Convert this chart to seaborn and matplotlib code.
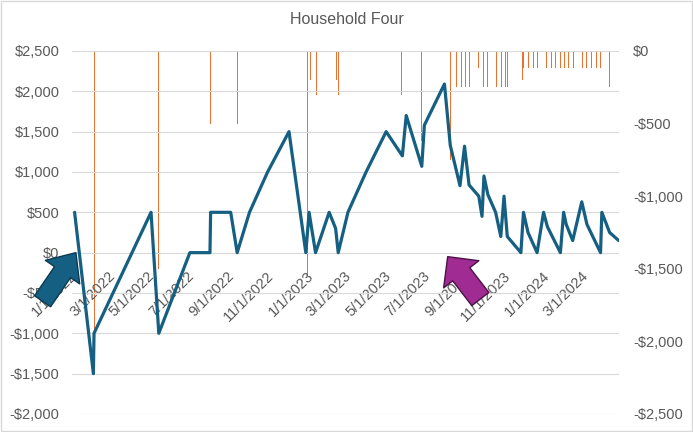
import pandas as pd
import numpy as np
import seaborn as sns
import matplotlib.pyplot as plt
from matplotlib.patches import Rectangle
from matplotlib.ticker import FuncFormatter

# Balance line (left axis)
line_dates = ['2022-01-01', '2022-01-30', '2022-01-31', '2022-04-29', '2022-05-11',
              '2022-06-28', '2022-07-29', '2022-07-30', '2022-08-30', '2022-09-09',
              '2022-09-28', '2022-10-26', '2022-11-28', '2022-12-24', '2022-12-29',
              '2023-01-08', '2023-01-29', '2023-02-08', '2023-02-12', '2023-02-27',
              '2023-03-27', '2023-04-27', '2023-05-22', '2023-05-28', '2023-06-21',
              '2023-06-25', '2023-07-26', '2023-08-04', '2023-08-19', '2023-08-26',
              '2023-09-02', '2023-09-17', '2023-09-22', '2023-09-25', '2023-10-01',
              '2023-10-13', '2023-10-21', '2023-10-26', '2023-10-31', '2023-11-21',
              '2023-11-25', '2023-12-02', '2023-12-16', '2023-12-26', '2024-01-01',
              '2024-01-21', '2024-01-26', '2024-01-30', '2024-02-09', '2024-02-23',
              '2024-03-02', '2024-03-23', '2024-03-25', '2024-04-06', '2024-04-20']
line_vals = [500, -1500, -1000, 500, -1000,
             0, 0, 500, 500, 0,
             500, 1000, 1500, 0, 500,
             0, 500, 300, 0, 500,
             1000, 1500, 1200, 1700, 1070,
             1580, 2090, 1330, 830, 1320,
             840, 700, 450, 950, 720,
             500, 200, 700, 200, 0,
             500, 250, 0, 500, 320,
             0, 500, 350, 150, 630,
             350, 0, 500, 250, 150]

# Transactions (right axis)
bar_dates = ['2022-01-31', '2022-05-11', '2022-07-30', '2022-09-10', '2022-12-26',
             '2022-12-31', '2023-01-10', '2023-02-10', '2023-02-13', '2023-05-21',
             '2023-06-20', '2023-08-04', '2023-08-14', '2023-08-21', '2023-08-27',
             '2023-09-03', '2023-09-17', '2023-09-25', '2023-10-01', '2023-10-15',
             '2023-10-22', '2023-10-29', '2023-11-01', '2023-11-23', '2023-11-25',
             '2023-12-03', '2023-12-10', '2023-12-17', '2023-12-31', '2024-01-07',
             '2024-01-13', '2024-01-21', '2024-01-27', '2024-02-03', '2024-02-10',
             '2024-02-24', '2024-03-02', '2024-03-09', '2024-03-16', '2024-03-23',
             '2024-04-06', '2024-04-21']
bar_vals = [-2000, -1500, -500, -500, -1550,
            -200, -300, -200, -300, -300,
            -620, -750, -250, -250, -250,
            -250, -120, -250, -250, -250,
            -250, -250, -250, -200, -120,
            -120, -120, -120, -120, -120,
            -120, -120, -120, -120, -120,
            -120, -120, -120, -120, -120,
            -250, -120]

tick_dates = ['2022-01-01', '2022-03-01', '2022-05-01', '2022-07-01', '2022-09-01',
              '2022-11-01', '2023-01-01', '2023-03-01', '2023-05-01', '2023-07-01',
              '2023-09-01', '2023-11-01', '2024-01-01', '2024-03-01']
tick_labels = ['1/1/2022', '3/1/2022', '5/1/2022', '7/1/2022', '9/1/2022',
               '11/1/2022', '1/1/2023', '3/1/2023', '5/1/2023', '7/1/2023',
               '9/1/2023', '11/1/2023', '1/1/2024', '3/1/2024']

line_dates = pd.to_datetime(line_dates)
bar_dates = pd.to_datetime(bar_dates)
tick_dates = pd.to_datetime(tick_dates)

sns.set_style('white')
plt.rcParams['font.family'] = ['Liberation Sans', 'DejaVu Sans']

grey = '#595959'
fig = plt.figure(figsize=(6.93, 4.32), dpi=100)
ax = fig.add_axes([0.1039, 0.0417, 0.7898, 0.8403])
ax2 = ax.twinx()

# bars on the secondary axis, hanging from 0
ax2.bar(bar_dates, bar_vals, width=1.5, color='#E97132', linewidth=0)
ax2.set_ylim(-2500, 0)
ax2.set_yticks(np.arange(-2500, 1, 500))

sns.lineplot(x=line_dates, y=line_vals, ax=ax, color='#156082', linewidth=2.3,
             estimator=None, sort=False, solid_joinstyle='round', solid_capstyle='round')

ax.set_zorder(ax2.get_zorder() + 1)
ax.patch.set_visible(False)

ax.set_ylim(-2000, 2500)
ax.set_yticks(np.arange(-2000, 2501, 500))
ax.set_xlim(pd.Timestamp('2021-12-28'), pd.Timestamp('2024-04-21'))
ax.set_xticks(tick_dates)
ax.set_xticklabels(tick_labels)
ax.grid(axis='y', color='#d9d9d9', linewidth=0.8)
ax.grid(axis='x', visible=False)
ax.set_xlabel('')
ax.set_ylabel('')

money = FuncFormatter(lambda v, p: f"-${abs(v):,.0f}" if v < 0 else f"${v:,.0f}")
ax.yaxis.set_major_formatter(money)
ax2.yaxis.set_major_formatter(money)

for a in (ax, ax2):
    for s in a.spines.values():
        s.set_visible(False)
ax.spines['bottom'].set_position(('data', 0))

ax.tick_params(axis='y', length=0, pad=9, labelsize=10.5, labelcolor=grey)
ax2.tick_params(axis='y', length=0, pad=10, labelsize=10.5, labelcolor=grey)
ax.tick_params(axis='x', length=0, pad=15, labelsize=10.5, labelcolor=grey)
plt.setp(ax.get_xticklabels(), rotation=45, ha='right', va='center', rotation_mode='anchor')

fig.suptitle('Household Four', y=0.954, va='center', fontsize=11.5, color=grey)

# callout arrows
ax.annotate('', xy=(pd.Timestamp('2022-01-03'), 0), xycoords='data',
            xytext=(-24, -35), textcoords='offset points',
            arrowprops=dict(arrowstyle='simple,head_length=1.7,head_width=3.0,tail_width=1.4',
                            mutation_scale=10, fc='#156082', ec='#0b3a50', lw=1,
                            shrinkA=0, shrinkB=0))
ax.annotate('', xy=(pd.Timestamp('2023-07-31'), -50), xycoords='data',
            xytext=(23.5, -30.5), textcoords='offset points',
            arrowprops=dict(arrowstyle='simple,head_length=1.6,head_width=3.2,tail_width=1.55',
                            mutation_scale=10, fc='#A02B93', ec='#4a1145', lw=1,
                            shrinkA=0, shrinkB=0))

fig.patches.append(Rectangle((0.001, 0.002), 0.997, 0.996, transform=fig.transFigure,
                             fill=False, ec='#d9d9d9', lw=1))

plt.savefig('out.png', dpi=100)
